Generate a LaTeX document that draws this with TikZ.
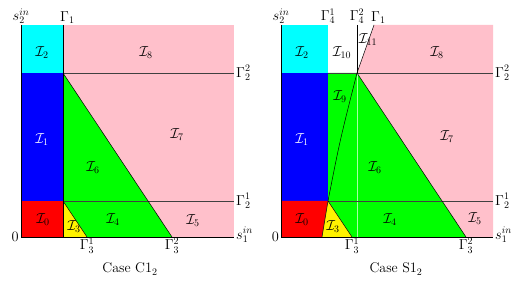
\documentclass[tikz,border=0pt]{standalone}
\usepackage{amsmath}
\usetikzlibrary{calc}
\definecolor{regpink}{RGB}{255,192,203}
\definecolor{regcyan}{RGB}{0,255,255}

\tikzset{
  axis/.style={black, line width=0.6pt},
  border/.style={black!75, line width=0.7pt},
  thinline/.style={black, line width=0.5pt},
  reg/.style={inner sep=1pt},
  every node/.style={font=\fontsize{14}{16}\selectfont}
}

\begin{document}
\begin{tikzpicture}[x=1pt, y=-1pt]
\useasboundingbox (0,0) rectangle (520,283);

% Case C1_2
\coordinate (O) at (21,237);
\coordinate (T) at (21,25);
\coordinate (G1t) at (63,25);
\coordinate (G1b) at (63,237);
\coordinate (Q) at (63,73);
\coordinate (R) at (63,201);
\coordinate (E2) at (234,73);
\coordinate (E1) at (234,201);
\coordinate (X) at (234,237);
\coordinate (G31) at (87,237);
\coordinate (G32) at (172,237);

\fill[regcyan] (T) rectangle (Q);
\fill[blue] (21,73) rectangle (R);
\fill[red] (21,201) rectangle (G1b);
\fill[regpink] (G1t) rectangle (X);
\fill[green] (Q) -- (G32) -- (G31) -- (R) -- cycle;
\fill[yellow] (R) -- (G31) -- (G1b) -- cycle;

\draw[border] (Q) -- (E2);
\draw[border] (R) -- (E1);
\draw[thinline] (Q) -- (G32);
\draw[thinline] (R) -- (G31);
\draw[axis] (G1t) -- (G1b);
\draw[axis] (T) -- (O) -- (X);

\node[above, inner sep=1pt] (s2) at (T) {$s_2^{in}$};
\node[above right, inner sep=1pt, xshift=-4pt] (g1) at (G1t) {$\Gamma_1$};
\node[right, inner sep=2pt] (g22) at (E2) {$\Gamma_2^2$};
\node[right, inner sep=2pt] (g21) at (E1) {$\Gamma_2^1$};
\node[right, inner sep=2pt, yshift=2pt] (s1) at (X) {$s_1^{in}$};
\node[left, inner sep=2pt] (zero) at (O) {$0$};
\node[below, inner sep=1pt] (g31) at (G31) {$\Gamma_3^1$};
\node[below, inner sep=1pt] (g32) at (G32) {$\Gamma_3^2$};
\node (capl) at (130,269) {Case C$1_2$};

\node[reg] (i2) at (42,53) {$\mathcal{I}_2$};
\node[reg] (i8) at (146,53) {$\mathcal{I}_8$};
\node[reg, white] (i1) at (42,140) {$\mathcal{I}_1$};
\node[reg] (i7) at (177,135) {$\mathcal{I}_7$};
\node[reg] (i6) at (93,168) {$\mathcal{I}_6$};
\node[reg] (i0) at (43,220) {$\mathcal{I}_0$};
\node[reg] (i3) at (74,227) {$\mathcal{I}_3$};
\node[reg] (i4) at (113,220) {$\mathcal{I}_4$};
\node[reg] (i5) at (193,221) {$\mathcal{I}_5$};

% Case S1_2
\coordinate (rO) at (281,237);
\coordinate (rT) at (281,25);
\coordinate (rA) at (328,25);
\coordinate (rB) at (357,25);
\coordinate (rC) at (374,25);
\coordinate (rTR) at (493,25);
\coordinate (rQa) at (328,73);
\coordinate (rQ) at (357,73);
\coordinate (rRa) at (328,201);
\coordinate (rE2) at (493,73);
\coordinate (rE1) at (493,201);
\coordinate (rX) at (493,237);
\coordinate (rF) at (322,237);
\coordinate (rM) at (357,237);
\coordinate (rG31) at (352,237);
\coordinate (rG32) at (466,237);

\fill[regcyan] (rT) rectangle (rQa);
\fill[regpink] (rC) -- (rTR) -- (rX) -- (rG32) -- (rQ) -- cycle;
\fill[blue] (281,73) rectangle (rRa);
\fill[red] (281,201) -- (rRa) -- (rF) -- (rO) -- cycle;
\fill[green] (rQa) -- (rQ) -- (rG32) -- (rG31) -- (rRa) -- cycle;
\fill[yellow] (rRa) -- (rG31) -- (rF) -- cycle;

\draw[white!65!green, line width=0.4pt] (rQ) -- (rM);
\draw[border] (rQa) -- (rE2);
\draw[border] (rRa) -- (rE1);
\draw[thinline] (rQ) -- (rG32);
\draw[thinline] (rRa) -- (rG31);
\draw[thinline] (rQ) .. controls (340,140) .. (rRa) -- (rF);
\draw[axis] (rB) -- (rQ);
\draw[thinline] (rQ) -- (rC);
\draw[axis] (rT) -- (rO) -- (rX);

\node[above, inner sep=1pt] (rs2) at (rT) {$s_2^{in}$};
\node[above, inner sep=1pt] (g41) at (rA) {$\Gamma_4^1$};
\node[above, inner sep=1pt] (g42) at (rB) {$\Gamma_4^2$};
\node[above right, inner sep=1pt, xshift=-4pt] (rg1) at (rC) {$\Gamma_1$};
\node[right, inner sep=2pt] (rg22) at (rE2) {$\Gamma_2^2$};
\node[right, inner sep=2pt] (rg21) at (rE1) {$\Gamma_2^1$};
\node[right, inner sep=2pt, yshift=2pt] (rs1) at (rX) {$s_1^{in}$};
\node[left, inner sep=2pt] (rzero) at (rO) {$0$};
\node[below, inner sep=1pt] (rg31) at (rG31) {$\Gamma_3^1$};
\node[below, inner sep=1pt] (rg32) at (rG32) {$\Gamma_3^2$};
\node (capr) at (396,269) {Case S$1_2$};

\node[reg] (ri2) at (302,53) {$\mathcal{I}_2$};
\node[reg] (ri10) at (342,53) {$\mathcal{I}_{10}$};
\node[reg] (ri11) at (368,40) {$\mathcal{I}_{11}$};
\node[reg] (ri8) at (437,53) {$\mathcal{I}_8$};
\node[reg] (ri9) at (340,97) {$\mathcal{I}_9$};
\node[reg, white] (ri1) at (302,140) {$\mathcal{I}_1$};
\node[reg] (ri7) at (447,137) {$\mathcal{I}_7$};
\node[reg] (ri6) at (375,168) {$\mathcal{I}_6$};
\node[reg] (ri0) at (302,220) {$\mathcal{I}_0$};
\node[reg] (ri3) at (333,227) {$\mathcal{I}_3$};
\node[reg] (ri4) at (390,220) {$\mathcal{I}_4$};
\node[reg] (ri5) at (475,219) {$\mathcal{I}_5$};

\end{tikzpicture}
\end{document}
